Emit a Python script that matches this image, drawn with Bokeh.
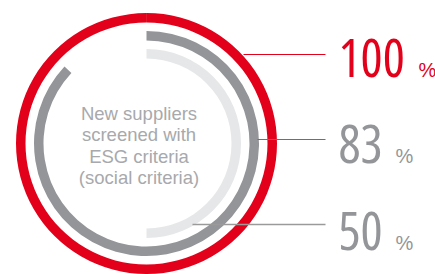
import math
from bokeh.plotting import figure
from bokeh.models import Range1d, InlineStyleSheet
from bokeh.core.properties import value
from bokeh.embed import file_html
from bokeh.resources import INLINE

# ---- data ----
labels = ["100", "83", "50"]                 # printed values (%)
arc_extent = [100, 87, 50]                   # drawn sweep of each ring, % of full circle
ring_colors = ["#e2001a", "#939598", "#e6e7e8"]
label_colors = ["#e2001a", "#939598", "#939598"]
leader_colors = ["#e2001a", "#6f6f6f", "#9a9a9a"]
center_lines = ["New suppliers", "screened with", "ESG criteria", "(social criteria)"]

# ---- layout (screen pixel space, y downward -> stored negative) ----
W, H = 435, 274
cx, cy = 146, 143
ring_inner = [121, 103, 85]
ring_outer = [130.5, 112.5, 94.5]
leader_y = [54, 139, 224]
leader_x0 = [243, 257, 192]
leader_w = [1, 1, 1.5]
leader_x1 = 325
num_x = 338
num_mid = [57.5, 144, 231]
pct_x = [418, 395, 395]
pct_mid = [69, 155.5, 242.5]
NUM_FONT = "Open Sans"

p = figure(width=W, height=H, output_backend="svg", toolbar_location=None,
           x_range=Range1d(0, W), y_range=Range1d(-H, 0),
           x_axis_location=None, y_axis_location=None, min_border=0)
p.grid.visible = False
p.outline_line_color = None
p.background_fill_color = "white"
p.border_fill_color = "white"
# condensed digits (Open Sans width axis)
p.stylesheets = [InlineStyleSheet(css=":host { font-stretch: 75%; }")]

# rings: start at 12 o'clock, run clockwise
for i in range(3):
    frac = min(arc_extent[i] / 100.0, 0.9999)
    start = math.pi / 2 - frac * 2 * math.pi
    end = math.pi / 2
    p.annular_wedge(x=cx, y=-cy, inner_radius=ring_inner[i], outer_radius=ring_outer[i],
                    start_angle=start, end_angle=end, direction="anticlock",
                    fill_color=ring_colors[i], line_color=None)

# leader lines
for i in range(3):
    p.segment(x0=leader_x0[i], y0=-leader_y[i], x1=leader_x1, y1=-leader_y[i],
              line_color=leader_colors[i], line_width=leader_w[i])

# numbers and percent signs
for i in range(3):
    p.text(x=[num_x], y=[-num_mid[i]], text=[labels[i]],
           text_font=value(NUM_FONT), text_font_size="52px",
           text_color=label_colors[i], text_baseline="middle", text_align="left")
    p.text(x=[pct_x[i]], y=[-pct_mid[i]], text=["%"],
           text_font=value("Liberation Sans"), text_font_size="20px",
           text_color=label_colors[i], text_baseline="middle", text_align="left")

# centre text
for k, line in enumerate(center_lines):
    p.text(x=[138.5], y=[-(113 + 21.4 * k)], text=[line],
           text_font=value("Liberation Sans"), text_font_size="18.5px",
           text_color="#a7a9ac", text_baseline="middle", text_align="center")

open("out.html", "w").write(file_html(p, INLINE))
